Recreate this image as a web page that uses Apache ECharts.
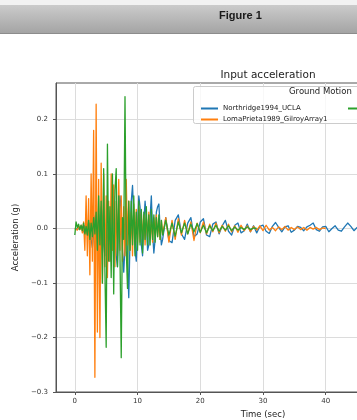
<!DOCTYPE html>
<html>
<head>
<meta charset="utf-8">
<style>
html,body{margin:0;padding:0;background:#ffffff;}
#chart{width:357px;height:420px;}
</style>
<script src="https://cdn.jsdelivr.net/npm/echarts@6/dist/echarts.min.js"></script>
</head>
<body>
<div id="chart"></div>
<script>
// ---- data ----
const seriesNames = ['Northridge1994_UCLA', 'LomaPrieta1989_GilroyArray1', 'ImperialValley1979_ElCentro'];
const earlyStep = 0.2;   // samples from t = 0 s to 14 s
const lateStart = 14.5;  // then every 0.5 s
const lateStep = 0.5;

const northridgeEarly = [0,0.001,-0.001,0.002,0,-0.003,0.004,-0.006,0.005,-0.01,
  0.008,-0.012,0.01,-0.02,-0.035,-0.01,0.02,0.03,-0.01,-0.035,
  0.01,0.04,0.02,-0.03,-0.05,0,0.05,0.03,-0.06,-0.04,
  0.03,0.06,0,-0.05,-0.07,0.02,0.06,0.03,-0.04,-0.08,
  -0.03,0.05,-0.06,-0.127,-0.02,0.05,0.079,0.02,-0.04,-0.06,
  0,0.06,0.04,-0.03,-0.05,0.01,0.05,0.02,-0.04,-0.03,
  0.02,0.06,-0.01,-0.045,-0.02,0.03,0.04,0.045,0,-0.03,-0.02];
const northridgeLate = [0.02,-0.022,-0.026,0.015,0.025,-0.01,-0.02,0.01,0.02,-0.015,
  -0.01,0.012,0.018,-0.012,-0.015,0.008,0.012,-0.01,0.005,0.015,
  -0.005,-0.012,0.006,0.01,-0.008,-0.004,0.008,-0.006,0.005,-0.008,
  0.004,0.006,-0.005,-0.009,0.004,0.011,0.002,-0.006,0.003,0.005,
  -0.007,-0.003,0.004,0.002,-0.004,0.003,0.006,0.01,-0.002,-0.005,
  0.003,0.004,-0.006,0,0.005,-0.003,-0.005,0.003,0.01,0.004,
  -0.004,0.002,0.006,0.004,-0.002,0.001,0.004,-0.003,0.002,0.003,
  -0.002,0.001,0.003,-0.002,0.002,0.004,-0.001,0.002,-0.003,0.001,
  0.003,-0.002,0.002,0.001,-0.002,0.003,0.001,-0.001,0.002,0,-0.001,0];

const lomaPrietaEarly = [0,0.002,-0.003,0.004,-0.002,0.006,-0.008,0.012,-0.04,0.06,
  -0.05,0.055,-0.085,0.1,-0.06,0.18,-0.273,0.228,-0.19,0.09,
  -0.2,0.12,-0.1,0.1,-0.07,0.06,-0.09,0.05,-0.06,0.1,
  -0.04,0.08,-0.07,0.05,-0.05,0.09,-0.04,0.06,-0.06,0.04,
  -0.05,0.09,-0.03,0.05,-0.04,0.03,-0.05,0.045,-0.02,0.035,
  -0.03,0.04,-0.025,0.03,-0.02,0.025,-0.03,0.02,-0.015,0.03,
  -0.02,0.015,-0.025,0.02,-0.01,0.025,-0.015,0.01,-0.02,0.015,-0.01];
const lomaPrietaLate = [0.02,-0.025,0.015,-0.02,0.018,-0.012,0.015,-0.01,0.012,-0.022,
  0.01,-0.008,0.012,-0.01,0.008,-0.006,0.01,-0.008,0.006,-0.005,
  0.008,-0.006,0.005,-0.007,0.006,-0.004,0.005,-0.006,0.004,-0.003,
  0.005,-0.004,0.006,-0.003,0.002,-0.004,0.003,-0.002,0.004,-0.003,
  0.002,-0.002,0.003,-0.002,0.002,-0.003,0.002,-0.001,0.002,-0.002,0.001,0];

const thirdEarly = [-0.012,0.012,0.002,0.008,-0.002,0.006,-0.004,0.01,-0.01,0.004,
  -0.012,0.015,-0.02,0.01,-0.015,0.02,-0.01,0.03,-0.04,0.06,
  -0.03,0.05,-0.1,0.11,-0.08,-0.218,0.155,-0.06,0.04,-0.09,
  0.1,-0.12,0.07,0.11,-0.07,0.06,-0.05,-0.237,0.02,-0.02,
  0.242,-0.04,-0.11,0.05,-0.04,0.05,-0.03,0.06,-0.05,0.03,
  -0.04,0.05,-0.03,0.035,-0.045,0.03,-0.02,0.04,-0.03,0.025,
  -0.03,0.035,-0.02,0.025,-0.025,0.02,-0.015,0.025,-0.02,0.015,-0.012];
const thirdLate = [0.015,-0.012,0.01,-0.014,0.012,-0.008,0.01,-0.01,0.008,-0.006,
  0.009,-0.007,0.006,-0.008,0.005,-0.004,0.006,-0.005,0.004,-0.003,
  0.005,-0.004,0.003,-0.003,0.002,-0.002,0.003,-0.002,0.001,0];

const xTicks = [0, 10, 20, 30, 40, 50, 60];
const yTicks = [-0.3, -0.2, -0.1, 0.0, 0.1, 0.2];

// ---- build (time, value) pairs ----
function toPairs(early, late) {
  const out = [];
  early.forEach((v, i) => out.push([+(i * earlyStep).toFixed(2), v]));
  late.forEach((v, j) => out.push([+(lateStart + j * lateStep).toFixed(2), v]));
  return out;
}
const allData = [
  toPairs(northridgeEarly, northridgeLate),
  toPairs(lomaPrietaEarly, lomaPrietaLate),
  toPairs(thirdEarly, thirdLate)
];
const colors = ['#1f77b4', '#ff7f0e', '#2ca02c'];

const chart = echarts.init(document.getElementById('chart'), null, {renderer: 'canvas'});
const font = 'DejaVu Sans';
const fmtY = v => (v < 0 ? '\u2212' : '') + Math.abs(v).toFixed(1);

chart.setOption({
  animation: false,
  backgroundColor: '#ffffff',
  title: {
    text: 'Input acceleration',
    left: 263, top: 65, textAlign: 'center',
    textStyle: {fontFamily: font, fontSize: 10.5, fontWeight: 'normal', color: '#222'}
  },
  grid: {
    left: 56, top: 83, right: -113, bottom: 28,
    containLabel: false, outerBoundsMode: 'none',
    show: true, borderColor: '#555', borderWidth: 1, backgroundColor: 'transparent'
  },
  legend: [
    {
      data: [seriesNames[0], seriesNames[1]],
      orient: 'vertical', left: 196, top: 99, itemGap: 2,
      itemWidth: 17, itemHeight: 2, icon: 'rect',
      textStyle: {fontFamily: font, fontSize: 7, color: '#222', lineHeight: 9},
      selectedMode: false, z: 20
    },
    {
      data: [seriesNames[2]],
      orient: 'vertical', left: 343, top: 99, itemGap: 2,
      itemWidth: 17, itemHeight: 2, icon: 'rect',
      textStyle: {fontFamily: font, fontSize: 7, color: '#222', lineHeight: 9},
      selectedMode: false, z: 20
    }
  ],
  xAxis: {
    type: 'value', min: -3, max: 63,
    name: 'Time (sec)', nameLocation: 'middle', nameGap: 17,
    nameTextStyle: {fontFamily: font, fontSize: 8.5, color: '#222'},
    axisLine: {show: true, onZero: false, lineStyle: {color: '#555', width: 1}},
    axisTick: {show: true, length: 3, customValues: xTicks, lineStyle: {color: '#555'}},
    axisLabel: {customValues: xTicks, margin: 6, fontFamily: font, fontSize: 7, color: '#333'},
    splitLine: {show: true, lineStyle: {color: '#dcdcdc', width: 1}}
  },
  yAxis: {
    type: 'value', min: -0.3, max: 0.267,
    name: 'Acceleration (g)', nameLocation: 'middle', nameGap: 33, nameRotate: 90,
    nameTextStyle: {fontFamily: font, fontSize: 8.5, color: '#222'},
    axisLine: {show: true, onZero: false, lineStyle: {color: '#555', width: 1}},
    axisTick: {show: true, length: 3, customValues: yTicks, lineStyle: {color: '#555'}},
    axisLabel: {customValues: yTicks, formatter: fmtY, margin: 8, fontFamily: font, fontSize: 7, color: '#333'},
    splitLine: {show: true, lineStyle: {color: '#dcdcdc', width: 1}}
  },
  series: allData.map((d, k) => ({
    name: seriesNames[k], type: 'line', data: d,
    showSymbol: false, symbol: 'none', clip: true,
    color: colors[k],
    lineStyle: {color: colors[k], width: 1.3, join: 'round'},
    z: 2 + k
  })),
  graphic: [
    {type: 'rect', left: 0, top: 0, shape: {width: 357, height: 5}, style: {fill: '#f2f2f2'}, z: 100},
    {type: 'rect', left: 0, top: 5, shape: {width: 357, height: 28},
      style: {fill: new echarts.graphic.LinearGradient(0, 0, 0, 1, [
        {offset: 0, color: '#cbcbcb'}, {offset: 1, color: '#a4a4a4'}])}, z: 100},
    {type: 'rect', left: 0, top: 33, shape: {width: 357, height: 1}, style: {fill: '#8c8c8c'}, z: 100},
    {type: 'text', left: 219, top: 10,
      style: {text: 'Figure 1', font: 'bold 11px "Liberation Sans", Arial, sans-serif', fill: '#1a1a1a'}, z: 101},
    {type: 'rect', left: 193, top: 86, shape: {width: 220, height: 37, r: 2},
      style: {fill: 'rgba(255,255,255,0.8)', stroke: '#cccccc', lineWidth: 1}, z: 10},
    {type: 'text', left: 289, top: 87,
      style: {text: 'Ground Motion', font: '8.5px "DejaVu Sans"', fill: '#222'}, z: 11}
  ]
});
</script>
</body>
</html>
